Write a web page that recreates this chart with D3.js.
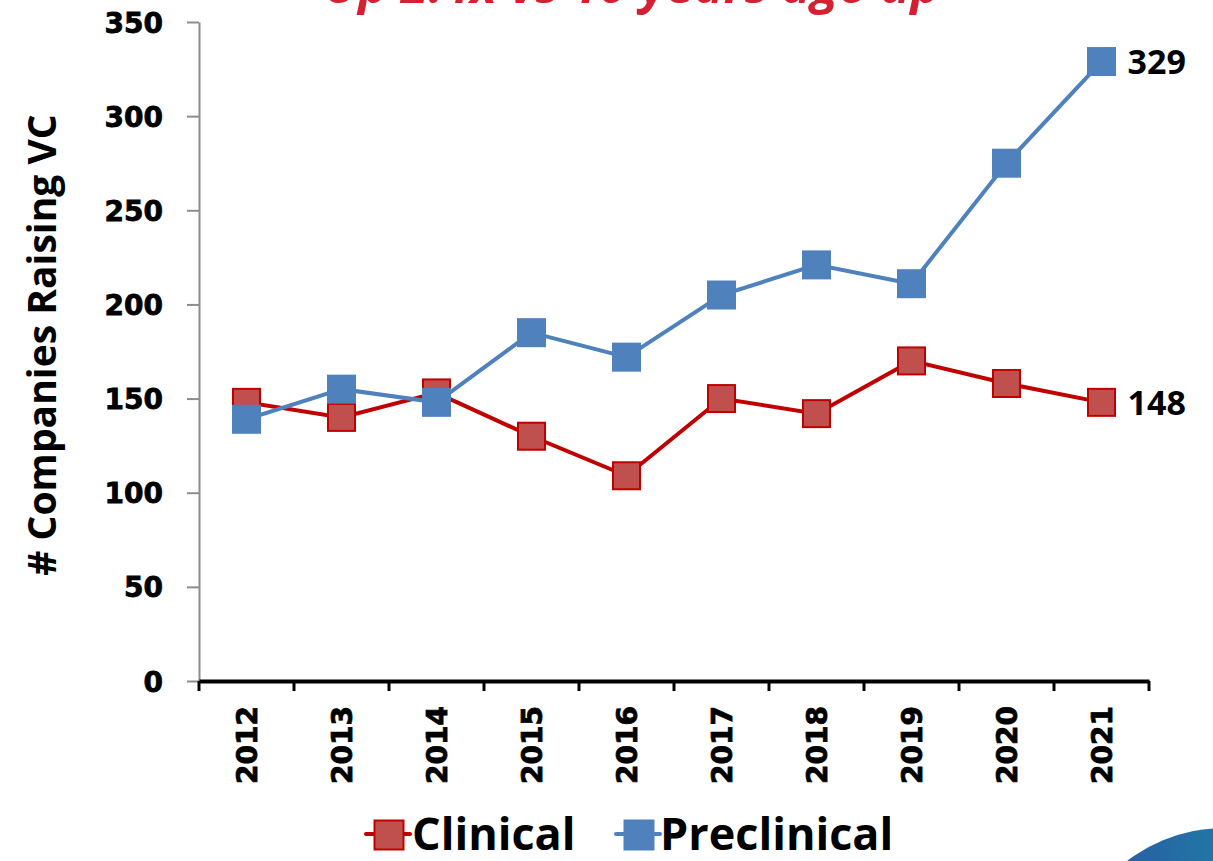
<!DOCTYPE html>
<html><head><meta charset="utf-8">
<script src="https://cdn.jsdelivr.net/npm/d3@7"></script>
<style>body{margin:0;background:#fff;overflow:hidden}</style>
</head><body>
<svg id="c" width="1213" height="861"></svg>
<script>
const years = ["2012","2013","2014","2015","2016","2017","2018","2019","2020","2021"];
const clinical = [148,140,153,130,109,150,142,170,158,148];
const preclinical = [139,155,148,185,172,205,221,211,275,329];
const yTicks = [0,50,100,150,200,250,300,350];
const titleText = "Up 2.4x vs 10 years ago up";
const yTitle = "# Companies Raising VC";

const svg = d3.select("#c");
const pL=199, pR=1149, pT=22, pB=681;
const x = d3.scaleBand().domain(years).range([pL,pR]);
const y = d3.scaleLinear().domain([0,350]).range([pB,pT]);

// logo fragment
const defs = svg.append("defs");
const g1 = defs.append("linearGradient").attr("id","lg").attr("x1","0").attr("x2","1").attr("y1","0").attr("y2","0");
g1.append("stop").attr("offset","0").attr("stop-color","#2c4fa3");
g1.append("stop").attr("offset","1").attr("stop-color","#15a3a8");
svg.append("circle").attr("cx",1225).attr("cy",990).attr("r",162).attr("fill","url(#lg)");

// title (cropped)
svg.append("text").attr("x",632).attr("y",3).attr("text-anchor","middle")
  .attr("font-family","Open Sans").attr("font-weight","bold").attr("font-style","italic")
  .attr("font-size",50).attr("fill","#d42030").text(titleText);

const tickFont = sel => sel.attr("font-family","DejaVu Sans").attr("font-weight","bold").attr("font-size",28)
  .attr("fill","#000").attr("stroke","#000").attr("stroke-width",0.8);

// y axis
const ya = svg.append("g").attr("transform",`translate(${pL},0)`)
  .call(d3.axisLeft(y).tickValues(yTicks).tickSize(12).tickPadding(24).tickSizeOuter(0));
ya.select(".domain").attr("stroke","#8c8c8c").attr("stroke-width",2);
ya.selectAll(".tick line").attr("stroke","#8c8c8c").attr("stroke-width",2);
ya.selectAll("text").call(tickFont).attr("dy","0.36em");

// x axis
const xa = svg.append("g").attr("transform",`translate(0,${pB})`)
  .call(d3.axisBottom(x).tickSize(0).tickSizeOuter(0));
xa.select(".domain").attr("stroke","#000").attr("stroke-width",4);
xa.selectAll(".tick text").attr("transform","rotate(-90)").attr("text-anchor","end")
  .attr("x",-25).attr("y",0).attr("dy","0.36em").call(tickFont);
const edges = years.map(d=>x(d)).concat([pR]);
svg.append("g").selectAll("line").data(edges).join("line")
  .attr("x1",d=>d).attr("x2",d=>d).attr("y1",pB).attr("y2",pB+10)
  .attr("stroke","#000").attr("stroke-width",3);

// y title
svg.append("text").attr("transform",`translate(56,345) rotate(-90)`).attr("text-anchor","middle")
  .attr("font-family","Open Sans").attr("font-weight","bold").attr("font-size",39).attr("fill","#000")
  .text(yTitle);

const cx = d => x(d)+x.bandwidth()/2;
const series = [
  {name:"Clinical", vals:clinical, line:"#c00000", fill:"#c0504d", stroke:"#c00000"},
  {name:"Preclinical", vals:preclinical, line:"#4f81bd", fill:"#4f81bd", stroke:"#4f81bd"}
];
const ms = 27;
series.forEach(s=>{
  const data = years.map((yr,i)=>({yr,v:s.vals[i]}));
  svg.append("path").datum(data).attr("fill","none").attr("stroke",s.line).attr("stroke-width",4)
    .attr("d",d3.line().x(d=>cx(d.yr)).y(d=>y(d.v)));
  svg.append("g").selectAll("rect").data(data).join("rect")
    .attr("x",d=>cx(d.yr)-ms/2).attr("y",d=>y(d.v)-ms/2).attr("width",ms).attr("height",ms)
    .attr("fill",s.fill).attr("stroke",s.stroke).attr("stroke-width",2);
  const last = data[data.length-1];
  svg.append("text").attr("x",cx(last.yr)+26).attr("y",y(last.v)).attr("dy","0.36em")
    .attr("font-family","Open Sans").attr("font-weight","bold").attr("font-size",34).attr("fill","#000")
    .text(last.v);
});

// legend
const leg = [{s:series[0], lx:366, tx:412},{s:series[1], lx:616, tx:660}];
leg.forEach(l=>{
  const cy=834;
  svg.append("line").attr("x1",l.lx).attr("x2",l.lx+44).attr("y1",cy).attr("y2",cy)
    .attr("stroke",l.s.line).attr("stroke-width",4).attr("stroke-linecap","round");
  svg.append("rect").attr("x",l.lx+22-ms/2).attr("y",cy-ms/2).attr("width",ms+2).attr("height",ms+2)
    .attr("fill",l.s.fill).attr("stroke",l.s.stroke).attr("stroke-width",2);
  svg.append("text").attr("x",l.tx).attr("y",cy).attr("dy","0.36em")
    .attr("font-family","Open Sans").attr("font-weight","bold").attr("font-size",45).attr("fill","#000")
    .text(l.s.name);
});
</script>
</body></html>
